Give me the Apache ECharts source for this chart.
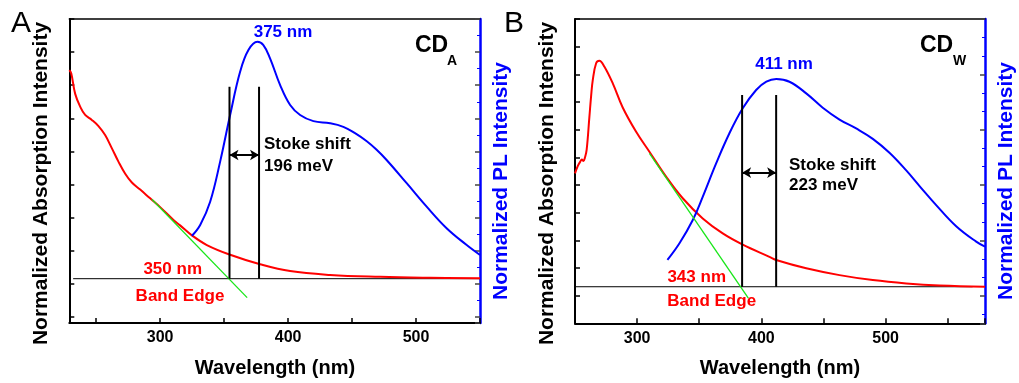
<!DOCTYPE html>
<html><head><meta charset="utf-8">
<script src="https://cdn.jsdelivr.net/npm/echarts@6/dist/echarts.min.js"></script>
<style>html,body{margin:0;padding:0;background:#fff}#c{width:1019px;height:383px}</style>
</head><body><div id="c"></div>
<script>
// ---------- data (wavelength nm, normalized intensity) ----------
const xTickLabels = [300, 400, 500];

// Panel A (CD_A)
const absA = [[229,0.88],[230.5,0.867],[233.6,0.78],[237.5,0.726],[241.4,0.691],[246.6,0.670],[251.8,0.644],[257,0.606],[262.3,0.550],[267.4,0.494],[272.7,0.443],[277.9,0.406],[284.4,0.376],[292.2,0.339],[300,0.302],[310.4,0.248],[315.6,0.225],[324.8,0.183],[336.5,0.142],[354.7,0.101],[378.1,0.061],[401.6,0.032],[432.8,0.016],[471.9,0.008],[510.9,0.004],[550,0.002]];
const plA = [[324.8,0.181],[331.3,0.227],[339.1,0.325],[346.9,0.494],[354.7,0.691],[362.5,0.873],[369,0.965],[376,1.0],[380.7,0.986],[385.9,0.930],[393.8,0.817],[401.6,0.733],[409.4,0.691],[419.8,0.665],[432.8,0.656],[443.2,0.641],[452,0.615],[461.5,0.580],[469,0.545],[477,0.501],[492.7,0.403],[508.3,0.304],[523.9,0.213],[539.6,0.142],[550,0.100]];
const tangentA = [[293.5,0.335],[368,-0.08]];
const baselineA = [[232,0],[550,0]];
const peakLineA = [354.2, 377.3];   // vertical markers (nm)
const peakLineTopA = 0.81;
const arrowYA = 0.522;

// Panel B (CD_W)
const absB = [[250,0.546],[252.2,0.581],[254,0.600],[255.5,0.612],[256.8,0.605],[258,0.622],[259.4,0.66],[261.6,0.819],[263,0.92],[264.3,0.995],[267,1.076],[269.6,1.088],[273.7,1.059],[280.4,0.979],[288.4,0.863],[299.2,0.746],[309.9,0.650],[323.3,0.530],[336.7,0.426],[352.8,0.329],[368.9,0.257],[385,0.203],[406.5,0.144],[411.9,0.129],[436.1,0.089],[462.9,0.056],[489.7,0.032],[516.6,0.016],[543.4,0.006],[580,0.0]];
const plB = [[324.4,0.129],[334.1,0.209],[344.8,0.321],[352.8,0.433],[363.6,0.594],[374.3,0.739],[385,0.859],[395.8,0.947],[404,0.987],[412,1.0],[422.6,0.987],[436.1,0.931],[449.4,0.862],[462.9,0.805],[476.3,0.762],[489.7,0.712],[503.1,0.645],[516.6,0.56],[528,0.48],[540.7,0.393],[556.8,0.291],[572.9,0.217],[580,0.193]];
const tangentB = [[309.9,0.642],[389.5,-0.055]];
const baselineB = [[250,0],[570,0]];
const peakLineB = [384.5, 411.9];
const peakLineTopB = 0.923;
const arrowYB = 0.549;

// ---------- styling ----------
const FONT = '"Liberation Sans", Arial, sans-serif';
const RED = '#ff0000', BLUE = '#0000ff', GREEN = '#19e619';

function bottomX(gi, min, max) {
  return {type:'value', gridIndex:gi, min, max, position:'bottom',
    axisLine:{show:true, onZero:false, lineStyle:{color:'#000', width:2}},
    axisTick:{show:true, inside:true, length:5, lineStyle:{color:'#000', width:1.5}},
    axisLabel:{color:'#000', fontSize:16, fontWeight:'bold', fontFamily:FONT, margin:7,
      formatter: v => xTickLabels.includes(v) ? String(v) : ''},
    splitLine:{show:false}};
}
function topX(gi, min, max) {
  return {type:'value', gridIndex:gi, min, max, position:'top',
    axisLine:{show:true, onZero:false, lineStyle:{color:'#000', width:1.5}},
    axisTick:{show:false}, axisLabel:{show:false}, splitLine:{show:false}};
}
function dataY(gi, min, max, pos, color, w) {
  return {type:'value', gridIndex:gi, min, max, position:pos,
    axisLine:{show:true, onZero:false, lineStyle:{color, width:w}},
    axisTick:{show:false}, axisLabel:{show:false}, splitLine:{show:false}};
}
function tickY(gi, max, interval, pos, color, minor) {
  const o = {type:'value', gridIndex:gi, inverse:true, min:0, max, interval, position:pos,
    axisLine:{show:false, onZero:false},
    axisTick:{show:true, inside:true, length:5, lineStyle:{color, width:1.5}},
    axisLabel:{show:false}, splitLine:{show:false}};
  if (minor) o.minorTick = {show:true, splitNumber:minor, length:3, lineStyle:{color:BLUE, width:1}};
  return o;
}
function line(xi, yi, data, color, width, z, smooth) {
  return {type:'line', xAxisIndex:xi, yAxisIndex:yi, data, symbol:'none', showSymbol:false,
    smooth: smooth ? 0.4 : false,
    lineStyle:{color, width}, itemStyle:{color}, z, silent:true};
}
function arrowSeries(xi, yi, xs, y) {
  return {type:'line', xAxisIndex:xi, yAxisIndex:yi, data:[], symbol:'none', silent:true,
    markLine:{silent:true, animation:false, symbol:['arrow','arrow'], symbolSize:[8,9],
      lineStyle:{color:'#000', width:2, type:'solid'}, label:{show:false},
      data:[[{coord:[xs[0], y]}, {coord:[xs[1], y]}]]}};
}
function txt(x, y, text, o) {
  o = o || {};
  return {type:'text', x, y, rotation:o.rot||0, z:100,
    style:{text, fill:o.color||'#000', fontSize:o.size||17, fontWeight:o.weight||'bold', fontFamily:FONT,
      textAlign:o.align||'center', align:o.align||'center', textVerticalAlign:'middle', verticalAlign:'middle'}};
}

const A_MIN = 229, A_MAX = 550, B_MIN = 250, B_MAX = 580;

const option = {
  animation:false,
  backgroundColor:'#fff',
  grid:[
    {left:69.3, top:19, width:410.7, height:304},
    {left:575, top:19, width:410, height:304.3}
  ],
  xAxis:[bottomX(0, A_MIN, A_MAX), topX(0, A_MIN, A_MAX), bottomX(1, B_MIN, B_MAX), topX(1, B_MIN, B_MAX)],
  yAxis:[
    dataY(0, -0.187, 1.096, 'left', '#000', 2),
    dataY(0, -0.187, 1.096, 'right', BLUE, 2.5),
    tickY(0, 9.184, 1, 'left', '#000'),
    tickY(0, 9.184, 1, 'right', '#444', 2),
    dataY(1, -0.176, 1.289, 'left', '#000', 2),
    dataY(1, -0.176, 1.289, 'right', BLUE, 2.5),
    tickY(1, 11, 1, 'left', '#000'),
    tickY(1, 11, 2, 'right', '#444', 3)
  ],
  series:[
    line(0, 0, baselineA, '#000', 1, 2),
    line(0, 0, absA, RED, 2, 3, true),
    line(0, 0, tangentA, GREEN, 1.3, 4),
    line(0, 1, plA, BLUE, 2, 3, true),
    line(0, 0, [[peakLineA[0],0],[peakLineA[0],peakLineTopA]], '#000', 2, 5),
    line(0, 0, [[peakLineA[1],0],[peakLineA[1],peakLineTopA]], '#000', 2, 5),
    arrowSeries(0, 0, peakLineA, arrowYA),
    line(2, 4, baselineB, '#000', 1, 2),
    line(2, 4, absB, RED, 2, 3, true),
    line(2, 4, tangentB, GREEN, 1.3, 4),
    line(2, 5, plB, BLUE, 2, 3, true),
    line(2, 4, [[peakLineB[0],0],[peakLineB[0],peakLineTopB]], '#000', 2, 5),
    line(2, 4, [[peakLineB[1],0],[peakLineB[1],peakLineTopB]], '#000', 2, 5),
    arrowSeries(2, 4, peakLineB, arrowYB)
  ],
  graphic:[
    txt(21, 24, 'A', {size:30, weight:'normal'}),
    txt(41.7, 183.5, 'Normalized Absorption Intensity', {size:21, rot:Math.PI/2}),
    txt(501, 181, 'Normalized PL Intensity', {size:21, rot:Math.PI/2, color:BLUE}),
    txt(275, 368, 'Wavelength (nm)', {size:20}),
    txt(283, 32, '375 nm', {color:BLUE}),
    txt(415, 46, 'CD', {size:23, align:'left'}),
    txt(447, 61, 'A', {size:14, align:'left'}),
    txt(264, 144, 'Stoke shift', {align:'left'}),
    txt(264, 166, '196 meV', {align:'left'}),
    txt(172.7, 269, '350 nm', {color:RED}),
    txt(180, 296, 'Band Edge', {color:RED}),

    txt(514, 24, 'B', {size:30, weight:'normal'}),
    txt(547.5, 183.5, 'Normalized Absorption Intensity', {size:21, rot:Math.PI/2}),
    txt(1006.7, 181, 'Normalized PL Intensity', {size:21, rot:Math.PI/2, color:BLUE}),
    txt(780, 368, 'Wavelength (nm)', {size:20}),
    txt(784, 64, '411 nm', {color:BLUE}),
    txt(920, 46, 'CD', {size:23, align:'left'}),
    txt(953, 61, 'W', {size:14, align:'left'}),
    txt(789, 165, 'Stoke shift', {align:'left'}),
    txt(789, 185, '223 meV', {align:'left'}),
    txt(696.7, 277.5, '343 nm', {color:RED}),
    txt(711.7, 301.7, 'Band Edge', {color:RED})
  ]
};
const chart = echarts.init(document.getElementById('c'), null, {renderer:'canvas'});
chart.setOption(option);
</script></body></html>
